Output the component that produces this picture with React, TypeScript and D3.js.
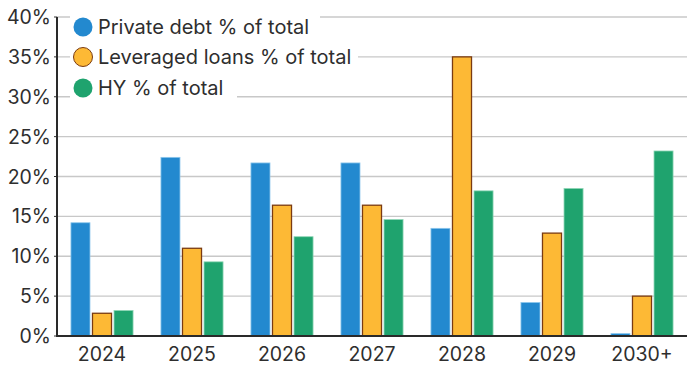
import React from "react";
import * as d3 from "d3";

const categories = ["2024", "2025", "2026", "2027", "2028", "2029", "2030+"];
const seriesNames = ["Private debt % of total", "Leveraged loans % of total", "HY % of total"];
const privateDebt = [14.2, 22.4, 21.7, 21.7, 13.5, 4.2, 0.3];
const leveragedLoans = [2.85, 11.0, 16.4, 16.4, 35.0, 12.9, 5.0];
const highYield = [3.2, 9.3, 12.45, 14.6, 18.2, 18.5, 23.2];
const yTicks = [0, 5, 10, 15, 20, 25, 30, 35, 40];

const W = 687;
const H = 366;
const left = 57;
const right = 687;
const top = 17;
const bottom = 336;
const FONT = "Inter, 'Open Sans', sans-serif";
const fills = ["#2389cf", "#fdb935", "#1fa36e"];
const strokes = ["#8cc6ec", "#7a3b12", "#8fd6b6"];

export default function App() {
  const series = [privateDebt, leveragedLoans, highYield];
  const x0 = d3.scaleBand<string>().domain(categories).range([left, right]).paddingInner(0.31).paddingOuter(0.155);
  const x1 = d3.scaleBand<number>().domain([0, 1, 2]).range([0, x0.bandwidth()]).paddingInner(0.116);
  const y = d3.scaleLinear().domain([0, 40]).range([bottom, top]);

  const legendRows = [27, 57, 88];
  const legendWidths = [250, 288, 167];

  return (
    <svg width={W} height={H} style={{ position: "absolute", left: 0, top: 0, background: "#fff" }} fontFamily={FONT}>
      {yTicks.map((t) => (
        <g key={t}>
          {t > 0 && <line x1={left} x2={right} y1={y(t)} y2={y(t)} stroke="#c8c8c8" strokeWidth={1.3} />}
          <text x={51} y={y(t) + 7} textAnchor="end" fontSize={19.5} fill="#2e2e2e">{t}%</text>
          <line x1={left - 3} x2={left} y1={y(t)} y2={y(t)} stroke="#333" strokeWidth={1} />
        </g>
      ))}
      {categories.map((c, i) => (
        <g key={c}>
          {series.map((s, k) => (
            <rect
              key={k}
              x={(x0(c) as number) + (x1(k) as number)}
              y={y(s[i])}
              width={x1.bandwidth()}
              height={bottom - y(s[i])}
              fill={fills[k]}
              stroke={strokes[k]}
              strokeWidth={k === 1 ? 1.3 : 0.8}
            />
          ))}
          <text x={(x0(c) as number) + x0.bandwidth() / 2} y={361} textAnchor="middle" fontSize={19.5} fill="#2e2e2e">{c}</text>
        </g>
      ))}
      <line x1={left} x2={left} y1={top} y2={bottom + 1} stroke="#2a2a2a" strokeWidth={2} />
      <line x1={left - 1} x2={right} y1={bottom} y2={bottom} stroke="#2a2a2a" strokeWidth={2} />
      {seriesNames.map((n, k) => (
        <g key={n}>
          <rect x={70} y={legendRows[k] - 13} width={legendWidths[k]} height={26} fill="#fff" />
          <circle cx={83} cy={legendRows[k]} r={9.5} fill={fills[k]} stroke={k === 1 ? "#7a3b12" : "none"} strokeWidth={1} />
          <text x={98} y={legendRows[k] + 7} fontSize={20} fill="#2e2e2e">{n}</text>
        </g>
      ))}
    </svg>
  );
}
